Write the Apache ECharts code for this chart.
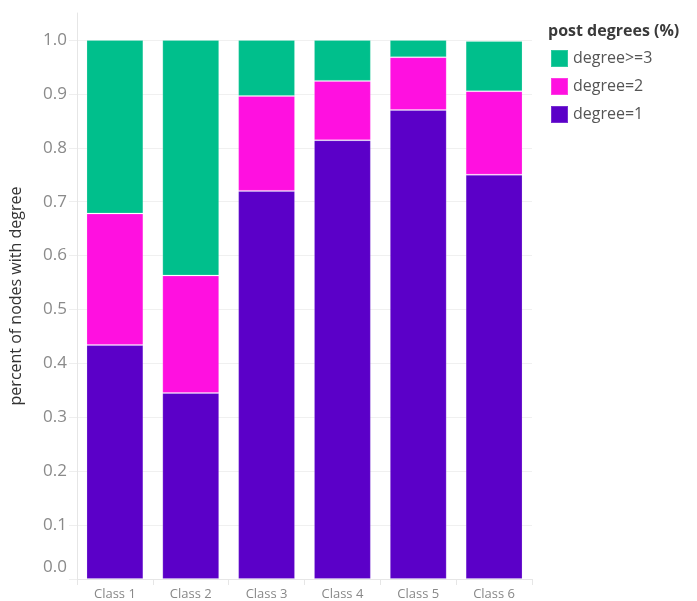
<!DOCTYPE html>
<html><head><meta charset="utf-8">
<script src="https://cdn.jsdelivr.net/npm/echarts@6/dist/echarts.min.js"></script>
<style>html,body{margin:0;padding:0;background:#fff}#c{width:697px;height:601px}</style>
</head><body><div id="c"></div>
<script>
var categories = ['Class 1','Class 2','Class 3','Class 4','Class 5','Class 6'];
var degree1 = [0.434, 0.345, 0.720, 0.814, 0.870, 0.750];
var degree2 = [0.244, 0.218, 0.176, 0.110, 0.098, 0.155];
var degree3 = [0.322, 0.437, 0.104, 0.076, 0.032, 0.093];
var seriesNames = ['degree=1','degree=2','degree>=3'];
var colors = ['#5b00c8','#ff10e0','#00bf8c'];

var chart = echarts.init(document.getElementById('c'));
var font = '"Open Sans", "Noto Sans", sans-serif';
function mk(name, data, color){
  return {name:name, type:'bar', stack:'t', data:data, barCategoryGap:'25%',
    itemStyle:{color:color, borderColor:'rgba(255,255,255,0.18)', borderWidth:1},
    emphasis:{disabled:true}};
}
chart.setOption({
  animation:false,
  textStyle:{fontFamily:font},
  title:{text:'post degrees (%)', left:543, top:18,
    textStyle:{fontSize:16, fontWeight:'bold', color:'#3a3a3a', fontFamily:font}},
  legend:{data:['degree>=3','degree=2','degree=1'], orient:'vertical', left:545, top:44,
    itemWidth:17, itemHeight:17, itemGap:9, icon:'rect',
    textStyle:{fontSize:16, color:'#555', fontFamily:font}},
  grid:{left:77, right:165, top:13, bottom:22, containLabel:false},
  xAxis:{type:'category', data:categories,
    axisLine:{lineStyle:{color:'#e6e6e6'}},
    axisTick:{show:true, length:6, lineStyle:{color:'#e6e6e6'}},
    axisLabel:{fontSize:13, color:'#888', margin:9}},
  yAxis:{type:'value', min:0, max:1.05, interval:0.1,
    name:'percent of nodes with degree', nameLocation:'middle', nameGap:53,
    nameTextStyle:{fontSize:16, color:'#333'},
    axisLine:{show:true, lineStyle:{color:'#e6e6e6'}},
    axisTick:{show:true, length:8, lineStyle:{color:'#eeeeee'}},
    splitLine:{show:true, showMaxLine:false, lineStyle:{color:'#f0f0f0'}},
    axisLabel:{fontSize:17, color:'#8a8a8a', margin:10, showMaxLabel:false,
      formatter:function(v){ if(v>1.0001) return ''; if(v<0.0001) return '{z|0.0}'; return v.toFixed(1); },
      rich:{z:{fontSize:17, color:'#8a8a8a', padding:[0,0,24,0]}}}},
  series:[mk(seriesNames[0],degree1,colors[0]), mk(seriesNames[1],degree2,colors[1]), mk(seriesNames[2],degree3,colors[2])]
});
</script></body></html>
